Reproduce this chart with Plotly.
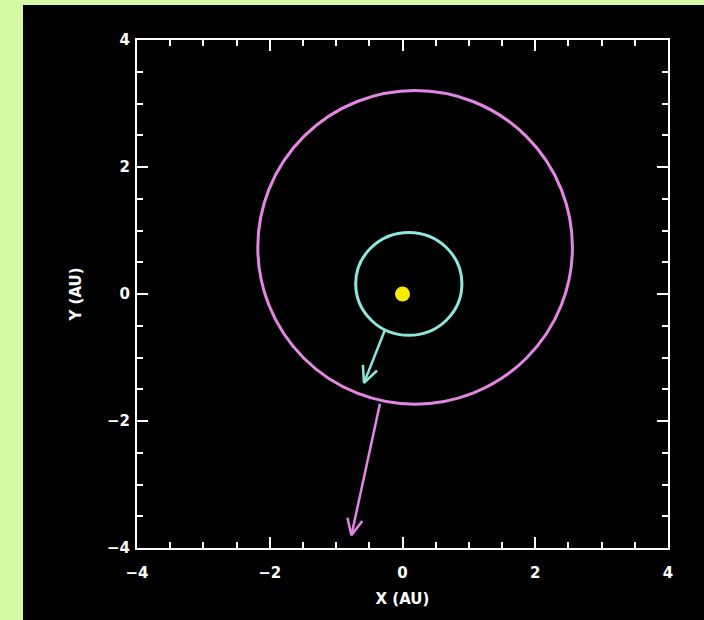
import math
import plotly.graph_objects as go

# ---- data (AU) ----
sun_xy = [0.0, 0.0]

# orbit: center x, center y, semi-axis x, semi-axis y
outer_orbit = [0.19, 0.735, 2.37, 2.47]
inner_orbit = [0.095, 0.16, 0.80, 0.81]

# arrows: start (x, y) -> tip (x, y)
cyan_arrow = [-0.265, -0.567, -0.58, -1.40]
magenta_arrow = [-0.34, -1.73, -0.77, -3.80]

tick_vals = [-4, -2, 0, 2, 4]
tick_text = ["\u22124", "\u22122", "0", "2", "4"]
x_range = [-4, 4]
y_range = [-4, 4]

# ---- style ----
W, H = 704, 620
ML, MR, MT, MB = 137, 36, 40, 72
PW, PH = W - ML - MR, H - MT - MB
GREEN = "#d4faa6"
MAGENTA = "#e486e4"
CYAN = "#8ee6dc"
YELLOW = "#f7ec00"
FONT = dict(family="DejaVu Sans", size=15, color="white", weight="bold")

sx = PW / (x_range[1] - x_range[0])
sy = PH / (y_range[1] - y_range[0])


def arrow_xy(a, head_px=18, half_angle_deg=25):
    x0, y0, x1, y1 = a
    dxp, dyp = (x0 - x1) * sx, (y0 - y1) * sy
    ang = math.atan2(dyp, dxp)
    xs, ys = [x0, x1, None], [y0, y1, None]
    wl = []
    for s in (1, -1):
        t = ang + s * math.radians(half_angle_deg)
        wl.append((x1 + head_px * math.cos(t) / sx, y1 + head_px * math.sin(t) / sy))
    xs += [wl[0][0], x1, wl[1][0]]
    ys += [wl[0][1], y1, wl[1][1]]
    return xs, ys


fig = go.Figure()

for arr, col in ((cyan_arrow, CYAN), (magenta_arrow, MAGENTA)):
    ax, ay = arrow_xy(arr)
    fig.add_trace(go.Scatter(x=ax, y=ay, mode="lines",
                             line=dict(color=col, width=2.5),
                             hoverinfo="skip", showlegend=False))

fig.add_trace(go.Scatter(x=[sun_xy[0]], y=[sun_xy[1]], mode="markers",
                         marker=dict(color=YELLOW, size=15, line=dict(width=0)),
                         showlegend=False))

shapes = [
    dict(type="rect", xref="paper", yref="paper",
         x0=(23 - ML) / PW, x1=(W - ML) / PW + 0.01,
         y0=-(MB + 5) / PH, y1=(PH + MT - 5) / PH,
         fillcolor="black", line=dict(width=0), layer="below"),
]
for orb, col in ((outer_orbit, MAGENTA), (inner_orbit, CYAN)):
    cx, cy, rx, ry = orb
    shapes.append(dict(type="circle", xref="x", yref="y",
                       x0=cx - rx, x1=cx + rx, y0=cy - ry, y1=cy + ry,
                       line=dict(color=col, width=3), layer="below"))

axis_common = dict(
    showgrid=False, zeroline=False, showline=True, linecolor="white",
    linewidth=2, mirror="allticks", ticks="inside", ticklen=11, tickwidth=2,
    tickcolor="white", tickvals=tick_vals, ticktext=tick_text,
    tickfont=FONT, fixedrange=True,
    minor=dict(dtick=0.5, ticks="inside", ticklen=6, tickwidth=2,
               tickcolor="white", showgrid=False),
)

fig.update_layout(
    width=W, height=H,
    margin=dict(l=ML, r=MR, t=MT, b=MB, pad=0),
    paper_bgcolor=GREEN, plot_bgcolor="black",
    shapes=shapes,
    xaxis=dict(range=x_range, title=dict(text="X (AU)", font=dict(FONT, size=15), standoff=12),
               ticklabelstandoff=10, **axis_common),
    yaxis=dict(range=y_range, title=dict(text="Y (AU)", font=dict(FONT, size=15), standoff=22),
               ticklabelstandoff=2, **axis_common),
)
fig.update_xaxes(automargin=False)
fig.update_yaxes(automargin=False)

fig.write_html(
    "out.html",
    config={"displayModeBar": False},
    post_script="document.body.style.margin='0';document.body.style.background='" + GREEN + "';",
)
